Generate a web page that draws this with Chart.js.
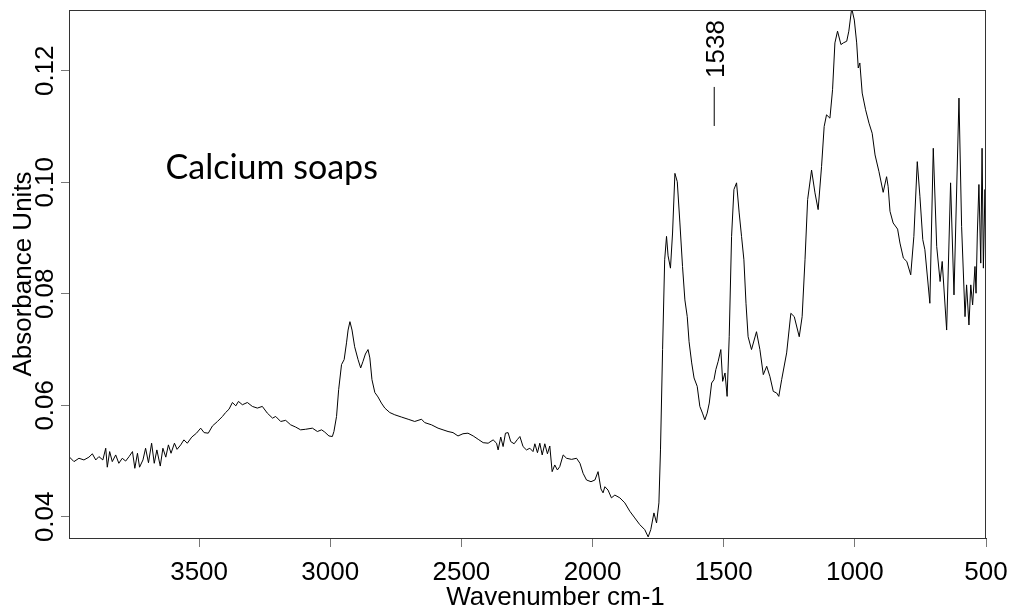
<!DOCTYPE html>
<html>
<head>
<meta charset="utf-8">
<script src="https://cdn.jsdelivr.net/npm/chart.js@4.4.1/dist/chart.umd.min.js"></script>
<style>
  body { margin: 0; background: #fff; }
  #spectrum { display: block; }
</style>
</head>
<body>
<canvas id="spectrum" width="1019" height="614"></canvas>
<script>
'use strict'
// FTIR spectrum of calcium soaps
let wavenumbers = [3996, 3977, 3958, 3939, 3920, 3907, 3894, 3882, 3867, 3856, 3850, 3841, 3831, 3818, 3806, 3793, 3780, 3767, 3754, 3745,
  3735, 3727, 3714, 3704, 3693, 3681, 3671, 3661, 3648, 3638, 3627, 3617, 3607, 3594, 3584, 3570, 3558, 3545, 3528, 3510,
  3494, 3481, 3465, 3449, 3430, 3411, 3399, 3386, 3373, 3360, 3350, 3335, 3316, 3297, 3278, 3259, 3240, 3220, 3208, 3189,
  3170, 3151, 3132, 3113, 3094, 3068, 3049, 3033, 3021, 3005, 2992, 2986, 2976, 2968, 2957, 2947, 2938, 2932, 2925, 2917,
  2907, 2894, 2884, 2875, 2866, 2856, 2849, 2841, 2830, 2818, 2805, 2792, 2773, 2754, 2729, 2703, 2678, 2652, 2640, 2614,
  2589, 2570, 2551, 2532, 2513, 2494, 2475, 2455, 2436, 2417, 2398, 2379, 2366, 2360, 2350, 2341, 2332, 2322, 2312, 2299,
  2286, 2277, 2265, 2252, 2239, 2227, 2220, 2210, 2201, 2192, 2182, 2172, 2163, 2154, 2144, 2134, 2125, 2112, 2099, 2080,
  2061, 2048, 2036, 2023, 2006, 1991, 1979, 1968, 1960, 1953, 1941, 1928, 1915, 1896, 1877, 1858, 1839, 1820, 1801, 1788,
  1778, 1766, 1756, 1747, 1741, 1733, 1725, 1718, 1712, 1703, 1695, 1686, 1677, 1667, 1657, 1648, 1639, 1632, 1622, 1613,
  1601, 1591, 1581, 1572, 1563, 1555, 1546, 1537, 1530, 1521, 1511, 1504, 1495, 1487, 1479, 1470, 1461, 1451, 1441, 1432,
  1423, 1415, 1407, 1394, 1375, 1362, 1349, 1336, 1324, 1311, 1298, 1290, 1279, 1260, 1244, 1231, 1212, 1201, 1190, 1180,
  1165, 1152, 1140, 1127, 1117, 1108, 1095, 1085, 1076, 1066, 1053, 1044, 1031, 1023, 1012, 1002, 993, 987, 981, 972,
  959, 946, 934, 923, 908, 892, 879, 873, 866, 854, 837, 828, 815, 802, 787, 775, 762, 752, 741, 733,
  714, 701, 688, 675, 667, 650, 635, 622, 603, 593, 580, 574, 565, 558, 551, 542, 538, 533, 527, 520,
  515, 510, 504, 500];
let absorbance = [0.0508, 0.0499, 0.0505, 0.0502, 0.0507, 0.0513, 0.0502, 0.0508, 0.0502, 0.0523, 0.0489, 0.0517, 0.0499, 0.0511, 0.0496, 0.0505, 0.0500, 0.0508, 0.0517, 0.0487,
  0.0514, 0.0489, 0.0502, 0.0523, 0.0497, 0.0532, 0.0496, 0.0520, 0.0491, 0.0523, 0.0507, 0.0529, 0.0514, 0.0532, 0.0521, 0.0529, 0.0538, 0.0532, 0.0543, 0.0550,
  0.0559, 0.0551, 0.0550, 0.0563, 0.0571, 0.0580, 0.0587, 0.0593, 0.0605, 0.0599, 0.0607, 0.0601, 0.0605, 0.0598, 0.0595, 0.0598, 0.0586, 0.0577, 0.0580, 0.0571,
  0.0573, 0.0565, 0.0561, 0.0556, 0.0557, 0.0559, 0.0553, 0.0556, 0.0552, 0.0545, 0.0544, 0.0553, 0.0580, 0.0628, 0.0673, 0.0682, 0.0712, 0.0735, 0.0750, 0.0735,
  0.0705, 0.0682, 0.0667, 0.0679, 0.0692, 0.0700, 0.0685, 0.0646, 0.0623, 0.0615, 0.0604, 0.0595, 0.0587, 0.0583, 0.0579, 0.0575, 0.0571, 0.0575, 0.0569, 0.0565,
  0.0559, 0.0556, 0.0553, 0.0551, 0.0545, 0.0549, 0.0550, 0.0545, 0.0539, 0.0533, 0.0532, 0.0538, 0.0532, 0.0520, 0.0543, 0.0526, 0.0550, 0.0551, 0.0535, 0.0531,
  0.0539, 0.0544, 0.0526, 0.0520, 0.0523, 0.0517, 0.0531, 0.0515, 0.0532, 0.0511, 0.0531, 0.0513, 0.0527, 0.0481, 0.0493, 0.0484, 0.0490, 0.0511, 0.0505, 0.0503,
  0.0505, 0.0496, 0.0478, 0.0466, 0.0463, 0.0466, 0.0481, 0.0450, 0.0443, 0.0454, 0.0448, 0.0434, 0.0439, 0.0434, 0.0425, 0.0410, 0.0398, 0.0386, 0.0377, 0.0364,
  0.0377, 0.0407, 0.0389, 0.0425, 0.0520, 0.0700, 0.0861, 0.0903, 0.0868, 0.0846, 0.0909, 0.1016, 0.1001, 0.0927, 0.0849, 0.0789, 0.0759, 0.0714, 0.0676, 0.0649,
  0.0634, 0.0598, 0.0586, 0.0574, 0.0586, 0.0604, 0.0640, 0.0646, 0.0664, 0.0679, 0.0700, 0.0643, 0.0658, 0.0616, 0.0723, 0.0903, 0.0987, 0.0999, 0.0945, 0.0903,
  0.0861, 0.0783, 0.0723, 0.0700, 0.0732, 0.0700, 0.0655, 0.0670, 0.0652, 0.0625, 0.0622, 0.0616, 0.0646, 0.0694, 0.0765, 0.0759, 0.0723, 0.0759, 0.0861, 0.0969,
  0.1022, 0.0981, 0.0951, 0.1028, 0.1100, 0.1121, 0.1115, 0.1166, 0.1250, 0.1271, 0.1247, 0.1250, 0.1253, 0.1271, 0.1312, 0.1291, 0.1250, 0.1205, 0.1214, 0.1160,
  0.1130, 0.1106, 0.1088, 0.1049, 0.1019, 0.0982, 0.1010, 0.0992, 0.0948, 0.0927, 0.0916, 0.0891, 0.0864, 0.0858, 0.0834, 0.0903, 0.1037, 0.0975, 0.0897, 0.0879,
  0.0783, 0.1061, 0.0885, 0.0822, 0.0858, 0.0735, 0.0999, 0.0798, 0.1151, 0.0921, 0.0759, 0.0816, 0.0744, 0.0816, 0.0780, 0.0849, 0.0801, 0.0909, 0.0996, 0.0855,
  0.1061, 0.0846, 0.0987, 0.0849];

let xTicks = [3500, 3000, 2500, 2000, 1500, 1000, 500];
let yTicks = [0.04, 0.06, 0.08, 0.10, 0.12];
let xRange = [500, 3996];
let yRange = [0.0362, 0.1309];

// band marker and sample label
let markLabel = '1538';
let markWavenumber = 1538;
let markLine = [0.1101, 0.1171];
let markTextAt = 0.1239;
let sampleName = 'Calcium soaps';
let samplePos = [3628, 0.1006];

let xTitle = 'Wavenumber cm-1';
let yTitle = 'Absorbance Units';

let axisFont = '26px "Liberation Sans", Arial, sans-serif';

let points = [];
for (let i = 0; i < wavenumbers.length; i++) {
    points.push({ x: wavenumbers[i], y: absorbance[i] });
}

let textPlugin = {
    id: 'textPlugin',
    afterDraw(chart) {
        let ctx = chart.ctx;
        let area = chart.chartArea;
        let xs = chart.scales.x;
        let ys = chart.scales.y;
        ctx.save();
        // box round the plot
        ctx.strokeStyle = '#333';
        ctx.lineWidth = 1;
        ctx.strokeRect(area.left + 0.5, area.top + 0.5, area.right - area.left - 1, area.bottom - area.top);

        ctx.fillStyle = '#000';
        ctx.font = axisFont;
        ctx.textAlign = 'center';
        ctx.textBaseline = 'alphabetic';

        // y tick labels, turned
        for (let v of yTicks) {
            ctx.save();
            ctx.translate(area.left - 16, ys.getPixelForValue(v));
            ctx.rotate(-Math.PI / 2);
            ctx.fillText(v.toFixed(2), 0, 0);
            ctx.restore();
        }
        // y title
        ctx.save();
        ctx.translate(area.left - 38, (area.top + area.bottom) / 2);
        ctx.rotate(-Math.PI / 2);
        ctx.fillText(yTitle, 0, 0);
        ctx.restore();
        // x title
        ctx.fillText(xTitle, (area.left + area.right) / 2 + 28, area.bottom + 67);

        // 1538 marker
        let mx = xs.getPixelForValue(markWavenumber);
        ctx.beginPath();
        ctx.moveTo(mx + 0.5, ys.getPixelForValue(markLine[0]));
        ctx.lineTo(mx + 0.5, ys.getPixelForValue(markLine[1]));
        ctx.strokeStyle = '#000';
        ctx.stroke();
        ctx.save();
        ctx.translate(mx + 10, ys.getPixelForValue(markTextAt));
        ctx.rotate(-Math.PI / 2);
        ctx.fillText(markLabel, 0, 0);
        ctx.restore();

        // sample name
        ctx.font = '34px Lato, "Open Sans", sans-serif';
        ctx.textAlign = 'left';
        ctx.fillText(sampleName, xs.getPixelForValue(samplePos[0]), ys.getPixelForValue(samplePos[1]));
        ctx.restore();
    }
};

let ctx = document.getElementById('spectrum').getContext('2d');
let spectrumChart = new Chart(ctx, {
    type: 'line',
    data: {
        datasets: [{
            data: points,
            borderColor: '#000',
            borderWidth: 1,
            pointRadius: 0,
            tension: 0,
            fill: false
        }]
    },
    options: {
        responsive: false,
        animation: false,
        devicePixelRatio: 1,
        layout: { padding: { top: 10, right: 33, left: 0, bottom: 0 } },
        plugins: { legend: { display: false }, tooltip: { enabled: false } },
        scales: {
            x: {
                type: 'linear',
                reverse: true,
                min: xRange[0],
                max: xRange[1],
                afterBuildTicks: function (scale) {
                    scale.ticks = xTicks.map(v => ({ value: v }));
                },
                afterFit: function (scale) { scale.height = 76; },
                ticks: {
                    autoSkip: false,
                    maxRotation: 0,
                    padding: 10,
                    color: '#000',
                    font: { family: '"Liberation Sans", Arial, sans-serif', size: 26 },
                    callback: v => String(v)
                },
                grid: { drawOnChartArea: false, tickLength: 9, tickColor: '#777' },
                border: { color: '#333' }
            },
            y: {
                min: yRange[0],
                max: yRange[1],
                afterBuildTicks: function (scale) {
                    scale.ticks = yTicks.map(v => ({ value: v }));
                },
                afterFit: function (scale) { scale.width = 69; },
                ticks: { display: false },
                grid: { drawOnChartArea: false, tickLength: 8, tickColor: '#777' },
                border: { color: '#333' }
            }
        }
    },
    plugins: [textPlugin]
});
</script>
</body>
</html>
